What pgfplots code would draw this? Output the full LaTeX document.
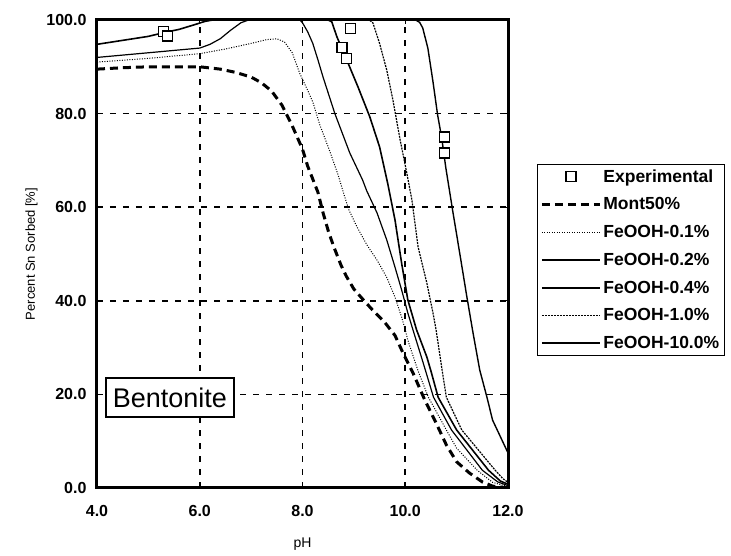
\documentclass[border=0pt]{standalone}
\usepackage{fontspec}
\setmainfont{Liberation Sans}
\usepackage{pgfplots}
\pgfplotsset{compat=1.18}

\begin{document}
\begin{tikzpicture}
  % canvas of the reference (axis box lower-left at the origin)
  \path[use as bounding box] (-97pt,-68pt) rectangle (634pt,488pt);

  \begin{axis}[
      at={(0,0)}, anchor=south west,
      scale only axis,
      width=411pt, height=468pt,
      xmin=4, xmax=12, ymin=0, ymax=100,
      xtick={4,6,8,10,12},
      ytick={0,20,40,60,80,100},
      grid=major,
      major grid style={black, line width=1.6pt, dash pattern=on 6pt off 7pt},
      axis line style={line width=3pt},
      tick align=inside,
      major tick length=4pt,
      tick style={black, line width=0.8pt},
      /pgf/number format/.cd, fixed, fixed zerofill, precision=1,
        assume math mode=true,
      /pgfplots/.cd,
      tick label style={font=\fontsize{16}{18}\selectfont\bfseries},
      yticklabel style={xshift=-7pt},
      xticklabel style={yshift=-14pt},
      xlabel={pH},
      ylabel={Percent Sn Sorbed [\%]},
      xlabel style={font=\fontsize{14}{16}\selectfont, at={(axis description cs:0.5,0)}, yshift=-46pt, anchor=north},
      ylabel style={font=\fontsize{13}{15}\selectfont, at={(axis description cs:0,0.5)}, yshift=56pt, anchor=south},
      legend style={
        at={(axis description cs:1.0706,0.692)}, anchor=north west,
        draw=black, line width=0.8pt,
        font=\fontsize{17.5}{20}\selectfont\bfseries,
        row sep=10pt, inner sep=3pt,
        cells={anchor=west},
      },
      legend image code/.code={
        \draw[mark repeat=2,mark phase=2,#1]
          plot coordinates {(0pt,0pt) (29pt,0pt) (58pt,0pt)};},
  ]

    % Experimental points
    \addplot[only marks, mark=square*, mark size=5pt,
             mark options={fill=white, draw=black, line width=1.2pt}]
      coordinates {
        (5.30,97.5) (5.38,96.6) (8.77,94.2) (8.86,91.8) (8.94,98.1)
        (10.77,75.0) (10.77,71.6)
      };
    \addlegendentry{Experimental}

    % Mont50%
    \addplot[black, line width=3pt, dash pattern=on 8pt off 5pt]
      coordinates {
        (4,89.5) (4.5,89.8) (5,90) (6,90) (6.4,89.5) (6.7,88.8) (7.0,87.8)
        (7.2,86.6) (7.4,84.8) (7.6,81.8) (7.8,77.4) (8.0,72.4) (8.1,68.8)
        (8.2,66) (8.3,63.2) (8.4,58.8) (8.5,55) (8.6,51.8) (8.75,47.6)
        (8.85,45.3) (9.0,42.5) (9.2,40) (9.4,37.6) (9.6,35.4) (9.8,32.6)
        (9.95,29) (10.15,24.6) (10.38,18.8) (10.6,13.9) (10.8,9.2) (11.0,5.6)
        (11.25,3.2) (11.5,1.3) (11.7,0.4) (12,0)
      };
    \addlegendentry{Mont50\%}

    % FeOOH-0.1%
    \addplot[black, line width=1pt, dash pattern=on 1pt off 1.5pt]
      coordinates {
        (4,91) (5,91.8) (6,92.8) (6.5,93.8) (7,95) (7.3,95.8) (7.5,96)
        (7.65,95.3) (7.8,93) (7.95,88.5) (8.1,85) (8.2,82.5) (8.34,77.5)
        (8.53,72) (8.69,67) (8.8,63) (8.9,59.5) (9.06,55.8) (9.25,52)
        (9.45,48.7) (9.64,45) (9.8,40.8) (9.93,36.5) (10.0,33.8) (10.05,31.6)
        (10.25,25) (10.45,19.4) (10.8,12.4) (11.0,8.5) (11.4,3.8) (11.7,1.2)
        (12,0.3)
      };
    \addlegendentry{FeOOH-0.1\%}

    % FeOOH-0.2%
    \addplot[black, line width=1.2pt]
      coordinates {
        (4,92) (5,93) (6,94) (6.2,94.8) (6.4,96) (6.6,97.8) (6.8,99.4)
        (6.95,100) (7.95,100) (8.0,99.4) (8.1,97.5) (8.2,95) (8.3,91.5)
        (8.4,87.8) (8.63,80) (8.92,71.6) (9.17,65.8) (9.25,63.5) (9.45,58.8)
        (9.64,53) (9.8,47.2) (9.93,42.3) (10.05,37.4) (10.15,33.8)
        (10.35,26.7) (10.55,19.4) (10.9,12.4) (11.5,3.8) (11.8,1.3) (12,0.5)
      };
    \addlegendentry{FeOOH-0.2\%}

    % FeOOH-0.4%
    \addplot[black, line width=1.6pt]
      coordinates {
        (4,94.8) (5,96.5) (5.3,97.3) (5.6,98) (5.9,99) (6.1,99.7) (6.25,100)
        (8.5,100) (8.57,99.6) (8.67,96.4) (8.86,91.5) (9.08,85.7) (9.31,79.3)
        (9.5,72.9) (9.66,65) (9.8,57.3) (9.93,48) (10.05,40.2) (10.22,33.8)
        (10.42,28) (10.5,25) (10.64,19.4) (11.0,12.4) (11.62,3.8) (11.85,1.5)
        (12,0.8)
      };
    \addlegendentry{FeOOH-0.4\%}

    % FeOOH-1.0%
    \addplot[black, line width=1.2pt, dash pattern=on 2pt off 1pt]
      coordinates {
        (4,100) (9.3,100) (9.37,99.4) (9.5,95) (9.64,89.3) (9.76,82.9)
        (9.9,74.4) (10.03,67.3) (10.13,61.5) (10.25,51.5) (10.42,43.8)
        (10.54,37.4) (10.6,33.8) (10.72,25) (10.8,19.4) (11.1,12.4)
        (11.75,3.8) (11.9,2) (12,1.2)
      };
    \addlegendentry{FeOOH-1.0\%}

    % FeOOH-10.0%
    \addplot[black, line width=1.4pt]
      coordinates {
        (4,100) (10.2,100) (10.28,99.5) (10.34,98.3) (10.44,94) (10.54,86.8)
        (10.63,79.7) (10.71,74.8) (10.79,68.4) (10.93,58.8) (11.06,50.2)
        (11.2,40.8) (11.32,33.1) (11.45,25.2) (11.59,19.4) (11.7,14.5)
        (11.88,10.3) (12,7.5)
      };
    \addlegendentry{FeOOH-10.0\%}

    \node[draw=black, fill=white, line width=2pt,
          font=\fontsize{27}{30}\selectfont,
          inner xsep=7pt, minimum height=39pt] at (axis cs:5.42,19.3) {Bentonite};

  \end{axis}
\end{tikzpicture}
\end{document}
